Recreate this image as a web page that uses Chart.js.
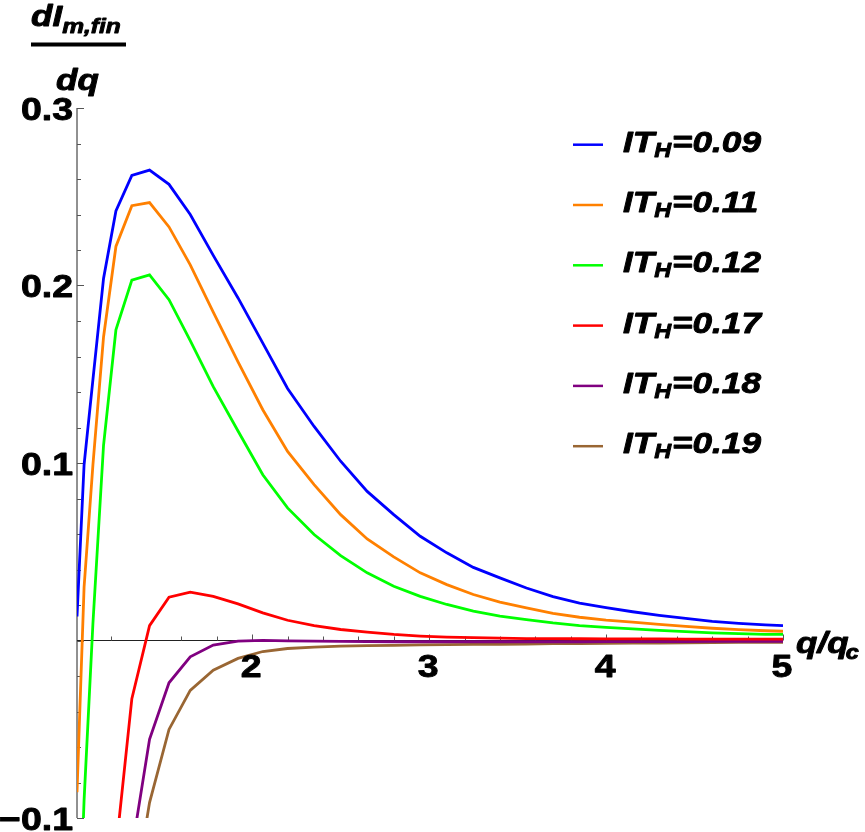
<!DOCTYPE html>
<html lang="en">
<head>
<meta charset="UTF-8">
<title>dI/dq</title>
<script src="https://cdn.jsdelivr.net/npm/chart.js"></script>
<style>
  html, body { margin: 0; padding: 0; background: #fff; }
  #wrap { width: 865px; height: 832px; }
</style>
</head>
<body>
<div id="wrap"><canvas id="chart" width="865" height="832"></canvas></div>
<script>
// q/q_c sample points
const qVals = [1.01, 1.05, 1.10, 1.16, 1.23, 1.32, 1.42, 1.53, 1.65, 1.78, 1.92, 2.06, 2.20, 2.35, 2.50, 2.65,
               2.80, 2.95, 3.10, 3.25, 3.40, 3.55, 3.70, 3.85, 4.00, 4.15, 4.30, 4.45, 4.60, 4.75, 4.90, 5.00];

const it009 = [0.0135, 0.099, 0.147, 0.204, 0.242, 0.262, 0.265, 0.257, 0.240, 0.217, 0.193, 0.1675, 0.142, 0.1206, 0.101, 0.084,
               0.0709, 0.0587, 0.0494, 0.0412, 0.0353, 0.0296, 0.0247, 0.0211, 0.0185, 0.0162, 0.0142, 0.0125, 0.0108, 0.0097, 0.0088, 0.0084];
const it011 = [-0.0855, 0.03, 0.099, 0.171, 0.222, 0.245, 0.2467, 0.233, 0.2116, 0.185, 0.157, 0.130, 0.1065, 0.0878, 0.0709, 0.0572,
               0.0471, 0.0381, 0.0315, 0.0259, 0.0216, 0.0184, 0.0153, 0.0131, 0.0115, 0.0104, 0.0091, 0.0080, 0.0069, 0.0061, 0.0055, 0.0052];
const it012 = [-0.2, -0.09, 0.0096, 0.110, 0.175, 0.203, 0.206, 0.192, 0.169, 0.143, 0.118, 0.0934, 0.0747, 0.0597, 0.0478, 0.0381,
               0.0306, 0.0249, 0.0203, 0.0165, 0.0137, 0.0118, 0.0099, 0.0084, 0.0074, 0.0065, 0.0057, 0.0050, 0.0043, 0.0039, 0.0035, 0.0034];
const it017 = [null, null, null, null, -0.118, -0.0328, 0.0084, 0.0244, 0.0272, 0.0249, 0.0206, 0.0156, 0.0114, 0.0084, 0.0062, 0.0047,
               0.0034, 0.0025, 0.0019, 0.0016, 0.0013, 0.0011, 0.0010, 0.0010, 0.0009, 0.0009, 0.0009, 0.0008, 0.0008, 0.0008, 0.0008, 0.0008];
const it018 = [null, null, null, null, null, -0.118, -0.0557, -0.0238, -0.0092, -0.0026, -0.0004, 0.0001, -0.0002, -0.0004, -0.0005, -0.0006,
               -0.0007, -0.0007, -0.0007, -0.0007, -0.0007, -0.0007, -0.0007, -0.0007, -0.0006, -0.0006, -0.0006, -0.0006, -0.0005, -0.0005, -0.0005, -0.0005];
const it019 = [null, null, null, null, null, -0.152, -0.0913, -0.0501, -0.0281, -0.0167, -0.0101, -0.0062, -0.0045, -0.0037, -0.0032, -0.0029,
               -0.0027, -0.0025, -0.0023, -0.0022, -0.0021, -0.0020, -0.0018, -0.0017, -0.0016, -0.0015, -0.0014, -0.0013, -0.0012, -0.0011, -0.0011, -0.0010];

const seriesNames = ['0.09', '0.11', '0.12', '0.17', '0.18', '0.19'];
const seriesData = [it009, it011, it012, it017, it018, it019];
const seriesColors = ['rgb(0,0,255)', 'rgb(255,128,0)', 'rgb(0,255,0)', 'rgb(255,0,0)', 'rgb(128,0,128)', 'rgb(153,102,51)'];

const xTickLabels = ['2', '3', '4', '5'];
const yTickLabels = ['\u22120.1', '0.1', '0.2', '0.3'];
const yTickValues = [-0.1, 0.1, 0.2, 0.3];

// text helpers: the reference font is a wide, heavy Arial-like bold
const SX = 1.17;
const FONT = '"Liberation Sans", Arial, sans-serif';
function txt(ctx, s, x, y, font, align) {
  ctx.save();
  ctx.font = font;
  ctx.textAlign = align || 'left';
  ctx.textBaseline = 'alphabetic';
  ctx.fillStyle = '#000';
  ctx.strokeStyle = '#000';
  ctx.lineWidth = 0.9;
  ctx.lineJoin = 'round';
  ctx.translate(x, y);
  ctx.scale(SX, 1);
  ctx.fillText(s, 0, 0);
  ctx.strokeText(s, 0, 0);
  ctx.restore();
}
function tw(ctx, s, font) {
  ctx.save();
  ctx.font = font;
  const w = ctx.measureText(s).width * SX;
  ctx.restore();
  return w;
}

const axesPlugin = {
  id: 'mmaAxes',
  beforeDatasetsDraw(chart) {
    const ctx = chart.ctx, xs = chart.scales.x, ys = chart.scales.y;
    const x0 = xs.left, y0 = ys.getPixelForValue(0);
    ctx.save();
    ctx.strokeStyle = '#222';
    ctx.lineWidth = 1;
    ctx.beginPath();
    ctx.moveTo(x0, ys.getPixelForValue(0.3));
    ctx.lineTo(x0, ys.getPixelForValue(-0.1));
    ctx.moveTo(x0, y0);
    ctx.lineTo(xs.getPixelForValue(5), y0);
    ctx.stroke();
    ctx.strokeStyle = '#555';
    ctx.beginPath();
    for (let k = 6; k <= 25; k++) {
      const v = k / 5;
      const px = Math.round(xs.getPixelForValue(v)) + 0.5;
      const len = (k % 5 === 0) ? 6 : 4;
      ctx.moveTo(px, y0);
      ctx.lineTo(px, y0 - len);
    }
    for (let k = -5; k <= 15; k++) {
      const v = k / 50;
      const py = Math.round(ys.getPixelForValue(v)) + 0.5;
      const len = (k % 5 === 0) ? 7 : 4;
      ctx.moveTo(x0, py);
      ctx.lineTo(x0 + len, py);
    }
    ctx.stroke();
    ctx.restore();
  },
  afterDraw(chart) {
    const ctx = chart.ctx, xs = chart.scales.x, ys = chart.scales.y;
    const y0 = ys.getPixelForValue(0);
    const tickF = 'bold 32px ' + FONT;
    xTickLabels.forEach(l => {
      txt(ctx, l, xs.getPixelForValue(Number(l)) - 1, y0 + 36, tickF, 'center');
    });
    yTickValues.forEach((v, i) => {
      txt(ctx, yTickLabels[i], 73, ys.getPixelForValue(v) + 11.5, tickF, 'right');
    });

    // axis labels
    const big = 'italic bold 30px ' + FONT, small = 'italic bold 21px ' + FONT;
    txt(ctx, 'dI', 31, 26, big);
    txt(ctx, 'm,fin', 31 + tw(ctx, 'dI', big), 33, small);
    ctx.fillStyle = '#000';
    ctx.fillRect(31, 42.5, 95, 4);
    txt(ctx, 'dq', 56, 90, big);
    const xl = 'q/q';
    txt(ctx, xl, 796, 653, big);
    txt(ctx, 'c', 796 + tw(ctx, xl, big) - 3, 659, 'italic bold 20px ' + FONT);

    // legend
    const subF = 'italic bold 20px ' + FONT;
    seriesNames.forEach((n, i) => {
      const by = 151.7 + 60.3 * i;
      ctx.save();
      ctx.strokeStyle = seriesColors[i];
      ctx.lineWidth = 2.5;
      ctx.beginPath();
      ctx.moveTo(573, by - 7);
      ctx.lineTo(603, by - 7);
      ctx.stroke();
      ctx.restore();
      let x = 623;
      txt(ctx, 'IT', x, by, big);
      x += tw(ctx, 'IT', big);
      txt(ctx, 'H', x, by + 5, subF);
      x += tw(ctx, 'H', subF) + 1;
      txt(ctx, '=' + n, x, by, big);
    });
  }
};

new Chart(document.getElementById('chart'), {
  type: 'line',
  data: {
    datasets: seriesData.map((vals, i) => ({
      label: 'IT_H=' + seriesNames[i],
      data: qVals.map((q, j) => ({ x: q, y: vals[j] })),
      borderColor: seriesColors[i],
      borderWidth: 2.8,
      pointRadius: 0,
      tension: 0,
      fill: false,
      spanGaps: false
    }))
  },
  options: {
    responsive: false,
    devicePixelRatio: 1,
    animation: false,
    layout: { padding: { left: 77, right: 82, top: 108, bottom: 14 } },
    scales: {
      x: { type: 'linear', min: 1.01, max: 5, display: false },
      y: { type: 'linear', min: -0.1, max: 0.3, display: false }
    },
    plugins: { legend: { display: false }, tooltip: { enabled: false } }
  },
  plugins: [axesPlugin]
});
</script>
</body>
</html>
